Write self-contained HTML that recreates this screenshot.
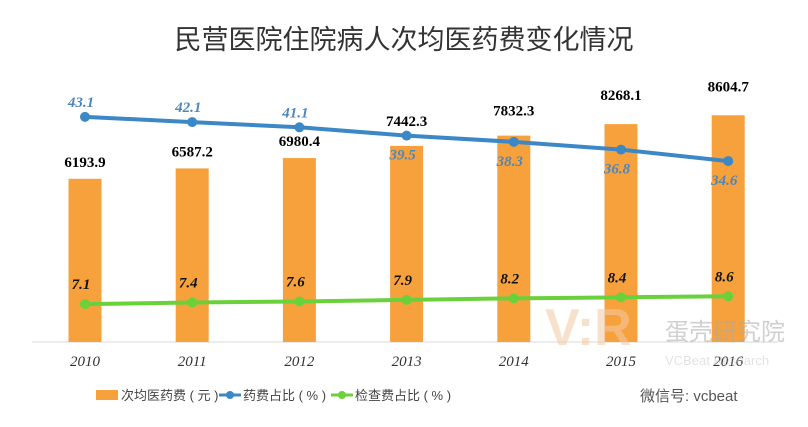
<!DOCTYPE html>
<html><head><meta charset="utf-8"><style>
body{margin:0;background:#fff;}
svg{display:block;}
</style></head><body>
<svg id="chart" width="808" height="427" xmlns="http://www.w3.org/2000/svg">
<text x="404" y="49" text-anchor="middle" font-family="'Liberation Sans','Noto Sans CJK SC',sans-serif" font-size="27" fill="#333">民营医院住院病人次均医药费变化情况</text>
<line x1="32" y1="342" x2="778" y2="342" stroke="#d9d9d9" stroke-width="1"/>
<g id="bars"></g><g id="lines"></g><g id="labels"></g>
<g opacity="0.55">
<text x="545" y="345" font-family="'Liberation Sans',sans-serif" font-size="52" font-weight="bold" fill="#f3c9a4">V:R</text>
<text x="665" y="340" font-family="'Liberation Sans','Noto Sans CJK SC',sans-serif" font-size="24" fill="#aaa">蛋壳研究院</text>
<text x="665" y="365" font-family="'Liberation Sans',sans-serif" font-size="13" fill="#ccc">VCBeat Research</text>
</g>
<g font-family="'Liberation Sans','Noto Sans CJK SC',sans-serif" font-size="13" fill="#444">
<g><rect x="96" y="390" width="22" height="10" fill="#f7a13c"/><text x="121" y="400">次均医药费 ( 元 )</text></g>
<g><line x1="219" y1="395" x2="241" y2="395" stroke="#3c88c6" stroke-width="3"/><circle cx="230" cy="395" r="4" fill="#3c88c6"/><text x="243" y="400">药费占比 ( % )</text></g>
<g><line x1="331" y1="395" x2="353" y2="395" stroke="#6ad13a" stroke-width="3"/><circle cx="342" cy="395" r="4" fill="#6ad13a"/><text x="355" y="400">检查费占比 ( % )</text></g>
<text x="640" y="401" font-size="15" fill="#555">微信号: vcbeat</text>
</g>
</svg>
<script>
const years=["2010","2011","2012","2013","2014","2015","2016"];
const cost=[6193.9,6587.2,6980.4,7442.3,7832.3,8268.1,8604.7];
const drugRatio=[43.1,42.1,41.1,39.5,38.3,36.8,34.6];
const examRatio=[7.1,7.4,7.6,7.9,8.2,8.4,8.6];
const NS="http://www.w3.org/2000/svg";
const x0=85,step=107.2,base=342;
const xPos=i=>x0+i*step;
const yCost=v=>base-v*0.02635;
const yPct=v=>341-v*5.2;
function el(tag,attrs,parent){const e=document.createElementNS(NS,tag);for(const k in attrs)e.setAttribute(k,attrs[k]);parent.appendChild(e);return e;}
const gb=document.getElementById('bars'),gl=document.getElementById('lines'),gt=document.getElementById('labels');
cost.forEach((v,i)=>{
 const r=el('rect',{x:xPos(i)-16.5,y:yCost(v),width:33,height:base-yCost(v),fill:'#f7a13c'},gb);
 
 
 const t=el('text',{x:xPos(i),y:yCost(v)-(i<3?12:i==3?20:i==4?20:24),'text-anchor':'middle','font-family':"'Liberation Serif',serif",'font-size':15,'font-weight':'bold',fill:'#000'},gt);
 t.textContent=v.toFixed(1);
 
 
 const y=el('text',{x:xPos(i),y:366,'text-anchor':'middle','font-family':"'Liberation Serif',serif",'font-size':15,'font-style':'italic',fill:'#333'},gt);
 y.textContent=years[i];
 
 
});
function series(arr,color,name,labelFn,lblColor){
 const p=el('polyline',{points:arr.map((v,i)=>xPos(i)+','+yPct(v)).join(' '),fill:'none',stroke:color,'stroke-width':4},gl);
 
 
 arr.forEach((v,i)=>{
  const c=el('circle',{cx:xPos(i),cy:yPct(v),r:5,fill:color},gl);
  
  
  const t=el('text',{x:xPos(i)-4,y:labelFn(i,yPct(v)),'text-anchor':'middle','font-family':"'Liberation Serif',serif",'font-size':15,'font-style':'italic','font-weight':'bold',fill:lblColor},gt);
  t.textContent=v.toFixed(1);
  
  
 });
}
series(drugRatio,'#3c88c6','drug-ratio',(i,y)=>i<3?y-10:y+24,'#4f86b8');
series(examRatio,'#6ad13a','exam-ratio',(i,y)=>y-15,'#111');
</script>
</body></html>
